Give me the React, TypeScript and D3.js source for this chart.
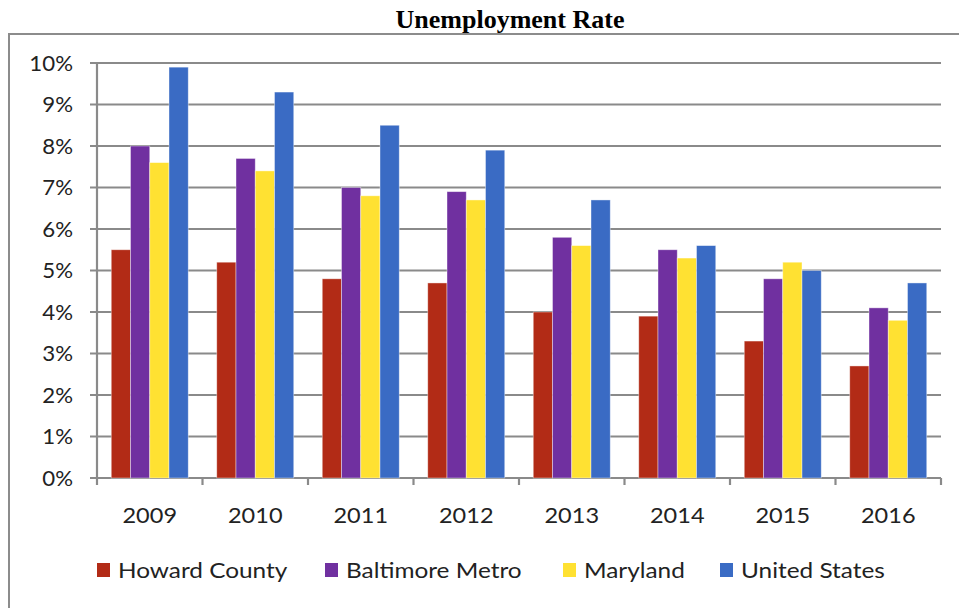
import React from "react";
import * as d3 from "d3";

const years = ["2009", "2010", "2011", "2012", "2013", "2014", "2015", "2016"];
const seriesNames = ["Howard County", "Baltimore Metro", "Maryland", "United States"];
const howard = [5.5, 5.2, 4.8, 4.7, 4.0, 3.9, 3.3, 2.7];
const baltimore = [8.0, 7.7, 7.0, 6.9, 5.8, 5.5, 4.8, 4.1];
const maryland = [7.6, 7.4, 6.8, 6.7, 5.6, 5.3, 5.2, 3.8];
const unitedStates = [9.9, 9.3, 8.5, 7.9, 6.7, 5.6, 5.0, 4.7];
const yTicks = [0, 1, 2, 3, 4, 5, 6, 7, 8, 9, 10];
const colors = ["#B22B16", "#7030A0", "#FFE132", "#3A6BC4"];

const seriesValues = [howard, baltimore, maryland, unitedStates];

export default function App() {
  const W = 959, H = 608;
  const left = 97, right = 941, top = 63, bottom = 478;
  const x = d3.scaleBand<string>().domain(years).range([left, right]).padding(0);
  const inner = d3.scaleBand<string>().domain(seriesNames).range([0, x.bandwidth()]).paddingInner(0).paddingOuter(0.74);
  const y = d3.scaleLinear().domain([0, 10]).range([bottom, top]);
  const font = "Lato, 'Open Sans', sans-serif";
  const grid = "#8a8a8a";
  const legendX = [97, 325, 563, 720];

  return (
    <svg width={W} height={H} style={{ position: "absolute", left: 0, top: 0, background: "#fff" }}>
      <rect x={0} y={0} width={W} height={H} fill="#fff" />
      <text x={510} y={28} textAnchor="middle" fontFamily="'Liberation Serif', 'Times New Roman', serif" fontWeight="bold" fontSize={26} fill="#000">
        Unemployment Rate
      </text>
      <path d={`M9,${H + 5} L9,34 L${W + 5},34`} fill="none" stroke="#8c8c8c" strokeWidth={2} />
      {yTicks.map((t) => (
        <g key={t}>
          <line x1={90} x2={right} y1={y(t)} y2={y(t)} stroke={grid} strokeWidth={2.2} />
          <text transform={`translate(73,${y(t) + 7.5}) scale(1.06,1)`} textAnchor="end" fontFamily={font} fontSize={21} fill="#222">
            {t}%
          </text>
        </g>
      ))}
      <line x1={left} x2={left} y1={top} y2={bottom + 7} stroke={grid} strokeWidth={2.2} />
      {years.map((yr) => (
        <line key={"t" + yr} x1={(x(yr) as number) + x.bandwidth()} x2={(x(yr) as number) + x.bandwidth()} y1={bottom} y2={bottom + 7} stroke={grid} strokeWidth={2.2} />
      ))}
      {years.map((yr, i) => (
        <g key={yr}>
          {seriesNames.map((s, j) => {
            const v = seriesValues[j][i];
            const bx = (x(yr) as number) + (inner(s) as number);
            return (
              <rect key={s} x={bx} y={y(v)} width={inner.bandwidth()} height={bottom - y(v)} fill={colors[j]} stroke="#ffffff" strokeOpacity={0.5} strokeWidth={0.8} />
            );
          })}
          <text transform={`translate(${(x(yr) as number) + x.bandwidth() / 2},523) scale(1.12,1)`} textAnchor="middle" fontFamily={font} fontSize={21} fill="#222">
            {yr}
          </text>
        </g>
      ))}
      {seriesNames.map((s, j) => (
        <g key={"l" + s}>
          <rect x={legendX[j]} y={563} width={13} height={14} fill={colors[j]} />
          <text transform={`translate(${legendX[j] + 21},578) scale(1.16,1)`} fontFamily={font} fontSize={21} fill="#222">
            {s}
          </text>
        </g>
      ))}
    </svg>
  );
}
